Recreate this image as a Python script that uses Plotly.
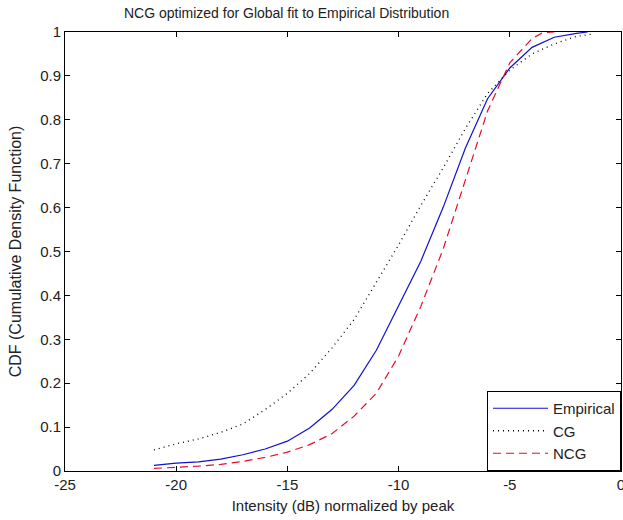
import plotly.graph_objects as go

# ---- data ----
emp_x = [-21, -20, -19, -18, -17, -16, -15, -14, -13, -12, -11, -10, -9, -8, -7, -6, -5, -4, -3, -2, -1.5]
emp_y = [0.013, 0.018, 0.021, 0.027, 0.037, 0.050, 0.068, 0.098, 0.140, 0.195, 0.275, 0.375,
         0.478, 0.600, 0.735, 0.848, 0.918, 0.965, 0.988, 0.997, 1.0]

cg_x = [-21, -20, -19, -18, -17, -16, -15, -14, -13, -12, -11, -10, -9, -8, -7, -6, -5, -4, -3, -2, -1.2]
cg_y = [0.048, 0.062, 0.073, 0.088, 0.107, 0.140, 0.177, 0.222, 0.280, 0.345, 0.430, 0.515,
        0.605, 0.690, 0.780, 0.860, 0.913, 0.950, 0.973, 0.990, 0.996]

ncg_x = [-21, -20, -19, -18, -17, -16, -15, -14, -13, -12, -11, -10, -9, -8, -7, -6, -5, -4, -3.5, -3]
ncg_y = [0.006, 0.008, 0.011, 0.015, 0.022, 0.031, 0.043, 0.060, 0.085, 0.125, 0.177, 0.262,
         0.375, 0.505, 0.660, 0.820, 0.930, 0.985, 0.999, 1.0]

x_ticks = [-25, -20, -15, -10, -5, 0]
x_labels = ["-25", "-20", "-15", "-10", "-5", "0"]
y_ticks = [0, 0.1, 0.2, 0.3, 0.4, 0.5, 0.6, 0.7, 0.8, 0.9, 1]
y_labels = ["0", "0.1", "0.2", "0.3", "0.4", "0.5", "0.6", "0.7", "0.8", "0.9", "1"]

title = "NCG optimized for Global fit to Empirical Distribution"
x_title = "Intensity (dB) normalized by peak"
y_title = "CDF (Cumulative Density Function)"

FONT = "Liberation Sans, Arial, sans-serif"
TXT = "#222"

fig = go.Figure()
fig.add_trace(go.Scatter(x=emp_x, y=emp_y, mode="lines", name="Empirical",
                         line=dict(color="#1010d0", width=1.2)))
fig.add_trace(go.Scatter(x=cg_x, y=cg_y, mode="lines", name="CG",
                         line=dict(color="#000000", width=1.3, dash="1px,4px")))
fig.add_trace(go.Scatter(x=ncg_x, y=ncg_y, mode="lines", name="NCG",
                         line=dict(color="#e0102a", width=1.2, dash="8px,5px")))

axis_common = dict(showline=True, linecolor="black", linewidth=1, mirror="ticks",
                   ticks="inside", ticklen=5, tickcolor="black", showgrid=False,
                   zeroline=False, automargin=False, ticklabeloverflow="allow",
                   tickfont=dict(family=FONT, size=15, color=TXT))

fig.update_layout(
    width=623, height=520,
    margin=dict(l=65, r=2, t=32, b=49),
    paper_bgcolor="white", plot_bgcolor="white",
    font=dict(family=FONT, color=TXT),
    title=dict(text=title, x=0.46, xanchor="center", y=0.975, yanchor="middle",
               font=dict(family=FONT, size=14, color=TXT)),
    xaxis=dict(range=[-25, 0], tickvals=x_ticks, ticktext=x_labels,
               title=dict(text=x_title, font=dict(family=FONT, size=15, color=TXT), standoff=8),
               **axis_common),
    yaxis=dict(range=[0, 1], tickvals=y_ticks, ticktext=y_labels,
               title=dict(text=y_title, font=dict(family=FONT, size=16, color=TXT), standoff=14),
               **axis_common),
    legend=dict(x=1, y=0, xanchor="right", yanchor="bottom", bgcolor="white",
                bordercolor="black", borderwidth=1,
                font=dict(family=FONT, size=15, color=TXT),
                tracegroupgap=0, itemwidth=55),
    showlegend=True,
)

fig.write_html("out.html")
